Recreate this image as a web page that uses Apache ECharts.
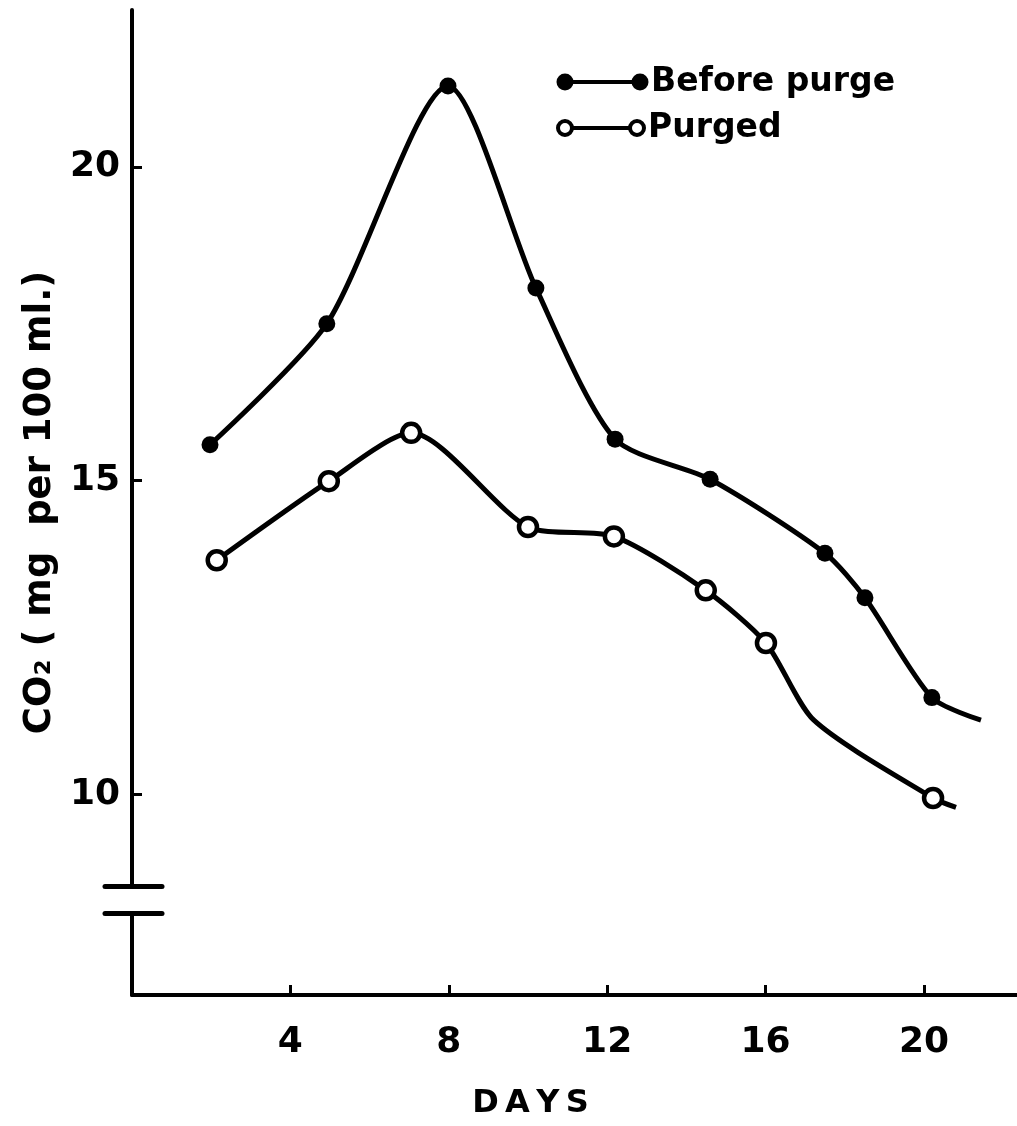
<!DOCTYPE html>
<html><head><meta charset="utf-8">
<script src="https://cdn.jsdelivr.net/npm/echarts@6/dist/echarts.min.js"></script>
<style>html,body{margin:0;padding:0;background:#fff}#c{width:1017px;height:1126px}</style>
</head><body><div id="c"></div>
<script>
// ---- data ----
const seriesNames = ['Before purge', 'Purged'];
const xTickValues = [4, 8, 12, 16, 20];
const yTickValues = [10, 15, 20];
const beforeDays  = [1.97, 4.92, 7.98, 10.20, 12.20, 14.60, 17.50, 18.51, 20.20, 21.44];
const beforeCO2   = [15.57, 17.50, 21.29, 18.07, 15.66, 15.02, 13.84, 13.13, 11.54, 11.18];
const beforeMarked = [1, 1, 1, 1, 1, 1, 1, 1, 1, 0];
const purgedDays  = [2.14, 4.97, 7.05, 10.00, 12.17, 14.49, 16.01, 17.22, 20.23, 20.81];
const purgedCO2   = [13.73, 14.99, 15.76, 14.26, 14.11, 13.25, 12.41, 11.18, 9.94, 9.79];
const purgedMarked = [1, 1, 1, 1, 1, 1, 1, 0, 1, 0];
const axisBreak = [8.10, 8.53];

const FONT = 'DejaVu Sans';
function build(xs, ys, marked) {
  return xs.map((x, i) => ({ value: [x, ys[i]], symbol: marked[i] ? 'circle' : 'none' }));
}

const chart = echarts.init(document.getElementById('c'), null, { renderer: 'canvas' });
const option = {
  backgroundColor: '#fff',
  animation: false,
  grid: { left: 132, top: 10, width: 885, height: 985, containLabel: false },
  xAxis: {
    type: 'value', min: 0, max: 22.35,
    name: 'D\u2009A\u2009Y\u2009S', nameLocation: 'middle', nameGap: 93,
    nameTextStyle: { fontFamily: FONT, fontWeight: 'bold', fontSize: 32, color: '#000', padding: [0, 88, 0, 0] },
    axisLine: { lineStyle: { color: '#000', width: 4 } },
    axisTick: { inside: true, length: 10, lineStyle: { color: '#000', width: 3 }, customValues: xTickValues },
    axisLabel: { customValues: xTickValues, fontFamily: FONT, fontWeight: 'bold', fontSize: 36, color: '#000', margin: 30 },
    splitLine: { show: false }
  },
  yAxis: {
    type: 'value', min: 6.8, max: 22.5,
    name: 'CO₂ ( mg  per 100 ml.)', nameLocation: 'middle', nameRotate: 90, nameGap: 73,
    nameTextStyle: { fontFamily: FONT, fontWeight: 'bold', fontSize: 37, color: '#000' },
    axisLine: { lineStyle: { color: '#000', width: 4 } },
    axisTick: { inside: true, length: 10, lineStyle: { color: '#000', width: 3 }, customValues: yTickValues },
    axisLabel: { customValues: yTickValues, fontFamily: FONT, fontWeight: 'bold', fontSize: 36, color: '#000', margin: 12 },
    splitLine: { show: false }
  },
  series: [
    {
      name: seriesNames[0], type: 'line', smooth: 0.25,
      data: build(beforeDays, beforeCO2, beforeMarked),
      symbolSize: 17, showAllSymbol: true,
      lineStyle: { color: '#000', width: 5 },
      itemStyle: { color: '#000' }
    },
    {
      name: seriesNames[1], type: 'line', smooth: 0.25,
      data: build(purgedDays, purgedCO2, purgedMarked),
      symbolSize: 18, showAllSymbol: true,
      lineStyle: { color: '#000', width: 5 },
      itemStyle: { color: '#fff', borderColor: '#000', borderWidth: 4.5 }
    }
  ]
};
chart.setOption(option);

// axis break marks on the y axis + legend
const pTop = chart.convertToPixel({ gridIndex: 0 }, [0, axisBreak[1]]);
const pBot = chart.convertToPixel({ gridIndex: 0 }, [0, axisBreak[0]]);
const ax = pTop[0];
const graphics = [
  { type: 'rect', shape: { x: ax - 5, y: pTop[1], width: 10, height: pBot[1] - pTop[1] }, style: { fill: '#fff' }, z: 100 },
  { type: 'line', shape: { x1: ax - 27, y1: pTop[1], x2: ax + 30, y2: pTop[1] }, style: { stroke: '#000', lineWidth: 5, lineCap: 'round' }, z: 101 },
  { type: 'line', shape: { x1: ax - 27, y1: pBot[1], x2: ax + 30, y2: pBot[1] }, style: { stroke: '#000', lineWidth: 5, lineCap: 'round' }, z: 101 },
  // legend row 1
  { type: 'line', shape: { x1: 565, y1: 82, x2: 640, y2: 82 }, style: { stroke: '#000', lineWidth: 4 }, z: 100 },
  { type: 'circle', shape: { cx: 565, cy: 82, r: 8.5 }, style: { fill: '#000' }, z: 101 },
  { type: 'circle', shape: { cx: 640, cy: 82, r: 8.5 }, style: { fill: '#000' }, z: 101 },
  { type: 'text', x: 651, y: 82, style: { text: seriesNames[0], fontFamily: FONT, fontWeight: 'bold', fontSize: 33, fill: '#000', verticalAlign: 'middle' }, z: 101 },
  // legend row 2
  { type: 'line', shape: { x1: 565, y1: 128, x2: 637, y2: 128 }, style: { stroke: '#000', lineWidth: 4 }, z: 100 },
  { type: 'circle', shape: { cx: 565, cy: 128, r: 7 }, style: { fill: '#fff', stroke: '#000', lineWidth: 4 }, z: 101 },
  { type: 'circle', shape: { cx: 637, cy: 128, r: 7 }, style: { fill: '#fff', stroke: '#000', lineWidth: 4 }, z: 101 },
  { type: 'text', x: 648, y: 128, style: { text: seriesNames[1], fontFamily: FONT, fontWeight: 'bold', fontSize: 33, fill: '#000', verticalAlign: 'middle' }, z: 101 }
];
chart.setOption({ graphic: graphics });
</script>
</body></html>
